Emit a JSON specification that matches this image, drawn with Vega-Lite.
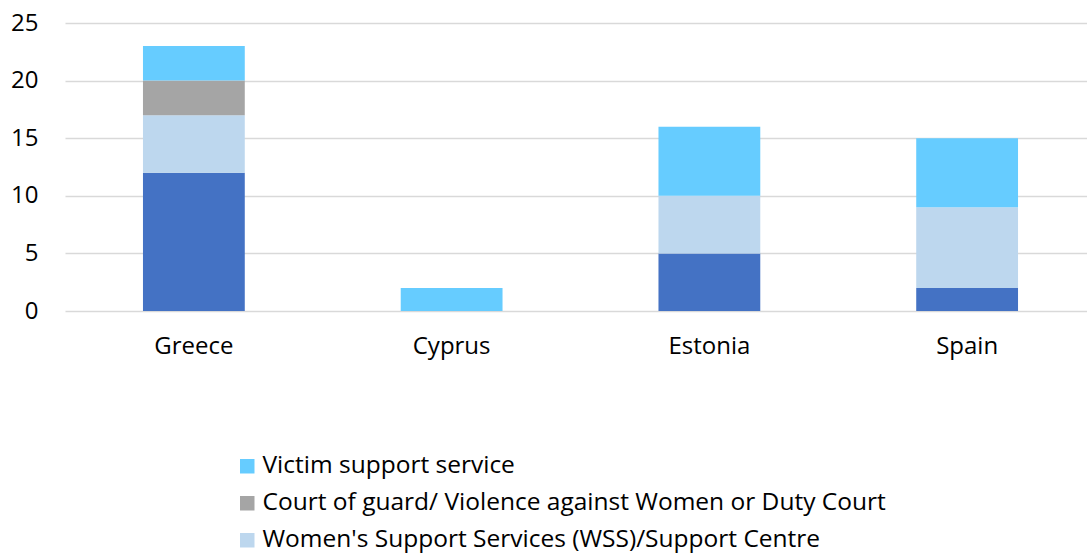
{
  "$schema": "https://vega.github.io/schema/vega-lite/v6.json",
  "width": 1022,
  "height": 288,
  "autosize": {"type": "none"},
  "padding": {"left": 65, "top": 23, "right": 0, "bottom": 243},
  "background": "white",
  "config": {
    "view": {"stroke": null},
    "font": "Open Sans",
    "axis": {"labelFont": "Open Sans", "labelFontSize": 24, "labelColor": "#000000"},
    "legend": {"labelFont": "Open Sans", "labelFontSize": 24.5, "labelColor": "#000000"}
  },
  "data": {
    "values": [
      {"country": "Greece", "service": "Police", "rank": 1, "value": 12},
      {"country": "Greece", "service": "Women's Support Services (WSS)/Support Centre", "rank": 2, "value": 5},
      {"country": "Greece", "service": "Court of guard/ Violence against Women or Duty Court", "rank": 3, "value": 3},
      {"country": "Greece", "service": "Victim support service", "rank": 4, "value": 3},
      {"country": "Cyprus", "service": "Victim support service", "rank": 4, "value": 2},
      {"country": "Estonia", "service": "Police", "rank": 1, "value": 5},
      {"country": "Estonia", "service": "Women's Support Services (WSS)/Support Centre", "rank": 2, "value": 5},
      {"country": "Estonia", "service": "Victim support service", "rank": 4, "value": 6},
      {"country": "Spain", "service": "Police", "rank": 1, "value": 2},
      {"country": "Spain", "service": "Women's Support Services (WSS)/Support Centre", "rank": 2, "value": 7},
      {"country": "Spain", "service": "Victim support service", "rank": 4, "value": 6}
    ]
  },
  "mark": {"type": "bar"},
  "encoding": {
    "x": {
      "field": "country",
      "type": "nominal",
      "sort": ["Greece", "Cyprus", "Estonia", "Spain"],
      "scale": {"range": [0, 1031], "paddingInner": 0.605, "paddingOuter": 0.3025},
      "axis": {"title": null, "labelAngle": 0, "ticks": false, "domain": false, "labelPadding": 23}
    },
    "y": {
      "field": "value",
      "type": "quantitative",
      "aggregate": "sum",
      "stack": "zero",
      "scale": {"domain": [0, 25], "nice": false},
      "axis": {
        "title": null,
        "values": [0, 5, 10, 15, 20, 25],
        "ticks": false,
        "domain": false,
        "labelPadding": 27,
        "gridColor": "#d9d9d9",
        "gridWidth": 1.5
      }
    },
    "color": {
      "field": "service",
      "type": "nominal",
      "scale": {
        "domain": ["Victim support service", "Court of guard/ Violence against Women or Duty Court", "Women's Support Services (WSS)/Support Centre", "Police"],
        "range": ["#66CCFF", "#A5A5A5", "#BDD7EE", "#4472C4"]
      },
      "legend": {
        "title": null,
        "orient": "none",
        "legendX": 170,
        "legendY": 431,
        "values": ["Victim support service", "Court of guard/ Violence against Women or Duty Court", "Women's Support Services (WSS)/Support Centre"],
        "symbolType": "square",
        "symbolSize": 210,
        "symbolStrokeWidth": 0,
        "rowPadding": 12,
        "labelOffset": 3,
        "labelLimit": 1000
      }
    },
    "order": {"field": "rank", "type": "quantitative", "sort": "ascending"}
  }
}
